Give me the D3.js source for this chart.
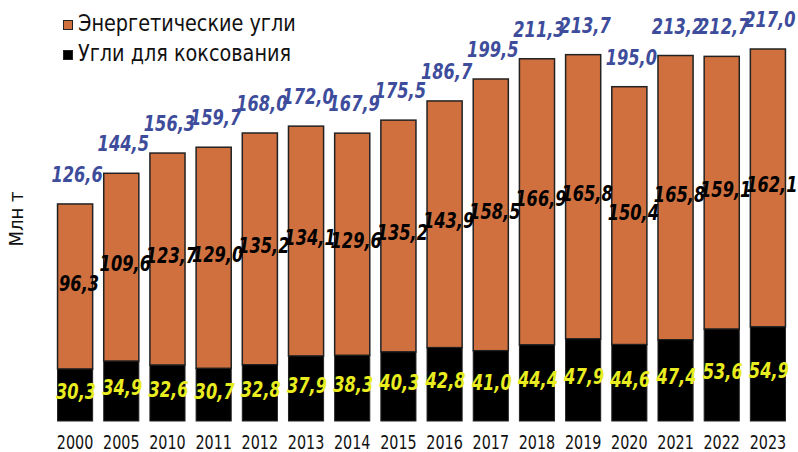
<!DOCTYPE html>
<html lang="ru">
<head>
  <meta charset="UTF-8">
  <title>Уголь</title>
  <script src="https://d3js.org/d3.v7.min.js"></script>
  <style>
    body { margin: 0; background: #fff; }
    svg { display: block; }
    .cond { font-family: "DejaVu Sans Condensed", "DejaVu Sans", sans-serif; font-stretch: condensed; }
  </style>
</head>
<body>
  <svg width="798" height="452"></svg>
  <script>
    const years = ["2000", "2005", "2010", "2011", "2012", "2013", "2014", "2015",
                   "2016", "2017", "2018", "2019", "2020", "2021", "2022", "2023"];
    const coking = [30.3, 34.9, 32.6, 30.7, 32.8, 37.9, 38.3, 40.3,
                    42.8, 41.0, 44.4, 47.9, 44.6, 47.4, 53.6, 54.9];
    const thermal = [96.3, 109.6, 123.7, 129.0, 135.2, 134.1, 129.6, 135.2,
                     143.9, 158.5, 166.9, 165.8, 150.4, 165.8, 159.1, 162.1];
    const totals = [126.6, 144.5, 156.3, 159.7, 168.0, 172.0, 167.9, 175.5,
                    186.7, 199.5, 211.3, 213.7, 195.0, 213.2, 212.7, 217.0];
    const seriesNames = ["Энергетические угли", "Угли для коксования"];

    const orange = "#d0703f", blue = "#3e4c9c", yellow = "#e9ec1f";
    const fmt = v => v.toFixed(1).replace(".", ",");

    const svg = d3.select("svg");
    const x = d3.scaleBand().domain(years).range([52, 791]).paddingInner(0.24).paddingOuter(0.12);
    const y = d3.scaleLinear().domain([0, 217]).range([421, 49]);

    const rows = years.map((yr, i) => ({ yr, c: coking[i], t: thermal[i], total: totals[i] }));

    const g = svg.append("g");
    // orange (thermal) part sits on the coking part
    g.selectAll(".th").data(rows).enter().append("rect")
      .attr("x", d => x(d.yr)).attr("width", x.bandwidth())
      .attr("y", d => y(d.c + d.t)).attr("height", d => y(d.c) - y(d.c + d.t))
      .attr("fill", orange).attr("stroke", "#222").attr("stroke-width", 1.5);
    g.selectAll(".ck").data(rows).enter().append("rect")
      .attr("x", d => x(d.yr)).attr("width", x.bandwidth())
      .attr("y", d => y(d.c)).attr("height", d => y(0) - y(d.c))
      .attr("fill", "#000").attr("stroke", "#222").attr("stroke-width", 1);

    const cx = d => x(d.yr) + x.bandwidth() / 2;

    // value label, squeezed a bit to look like a condensed face
    function label(sel, fx, fy, color, txt) {
      sel.enter().append("text").attr("class", "cond")
        .attr("transform", d => `translate(${fx(d)},${fy(d)}) scale(0.86,1)`)
        .attr("text-anchor", "middle").attr("font-size", 21).attr("font-weight", "bold")
        .attr("font-style", "italic").attr("fill", color).text(txt);
    }

    label(g.selectAll(".lt").data(rows), d => cx(d) + 4,
          d => (y(d.c) + y(d.c + d.t)) / 2 + 4, "#000", d => fmt(d.t));
    label(g.selectAll(".lc").data(rows), d => cx(d) + 1,
          d => (y(d.c) + y(0)) / 2 + 4, yellow, d => fmt(d.c));
    label(g.selectAll(".tot").data(rows), d => cx(d) + 2,
          d => y(d.total) - 22, blue, d => fmt(d.total));

    // x axis labels only
    const ax = svg.append("g").attr("transform", "translate(0,449)")
      .call(d3.axisBottom(x).tickSize(0).tickPadding(0));
    ax.select(".domain").remove();
    ax.selectAll("text").attr("class", "cond").attr("font-size", 19)
      .attr("fill", "#111").attr("dy", 0).attr("y", 0)
      .attr("transform", "scale(0.84,1)");

    svg.append("text").attr("transform", "translate(23,219) rotate(-90)")
      .attr("text-anchor", "middle").attr("font-family", "DejaVu Sans Condensed, sans-serif")
      .attr("font-size", 20).attr("fill", "#111").text("Млн т");

    const legend = svg.append("g");
    const legColors = [orange, "#000"];
    seriesNames.forEach((name, i) => {
      legend.append("rect").attr("x", 63.5).attr("y", 20.5 + i * 30).attr("width", 9).attr("height", 9)
        .attr("fill", legColors[i]).attr("stroke", "#222").attr("stroke-width", 1);
      legend.append("text").attr("class", "cond")
        .attr("transform", `translate(78,${31 + i * 30}) scale(0.93,1)`)
        .attr("font-size", 23).attr("fill", "#111").text(name);
    });
  </script>
</body>
</html>
